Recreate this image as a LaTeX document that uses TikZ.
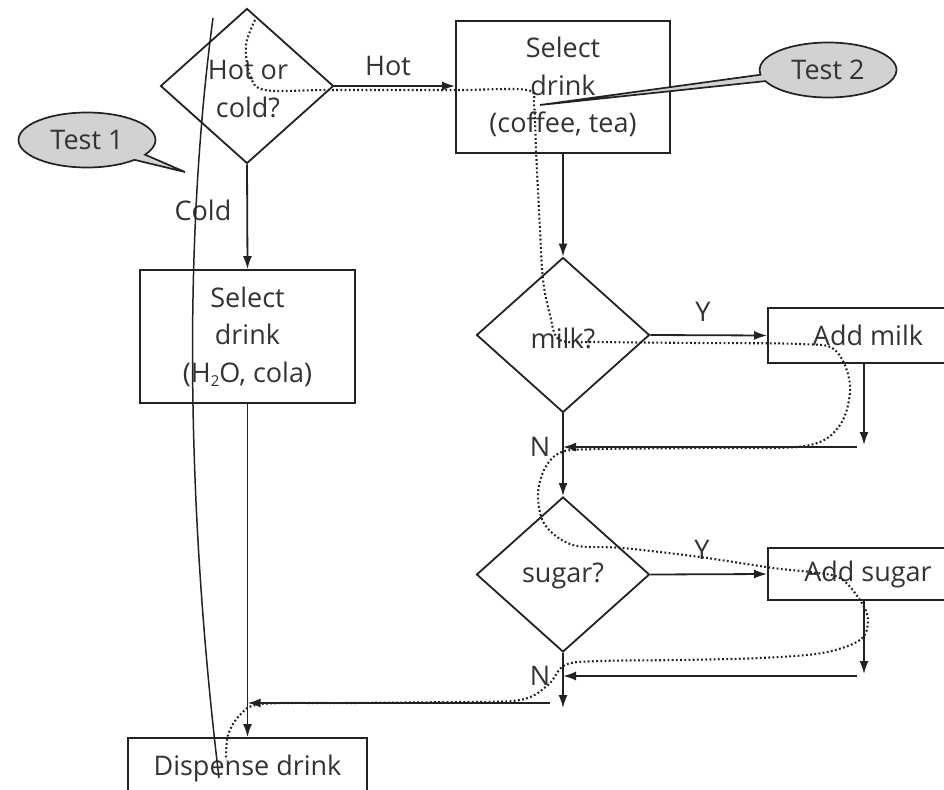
\documentclass[tikz,border=0pt]{standalone}
\usepackage{fontspec}
\setmainfont{Open Sans}
\usetikzlibrary{shapes.geometric,shapes.callouts,arrows.meta}
\definecolor{ln}{HTML}{222222}
\definecolor{txt}{HTML}{333333}
\definecolor{bub}{HTML}{D2D2D2}
\begin{document}
\begin{tikzpicture}[x=1pt,y=-1pt,
  every node/.style={text=txt, font=\fontsize{27}{37.5}\selectfont},
  line/.style={draw=ln, line width=1.8pt},
  arr/.style={line, -{Latex[length=13pt,width=9pt]}},
  box/.style={line, rectangle, inner sep=0pt, align=center},
  dia/.style={line, diamond, inner sep=0pt, minimum width=173pt, minimum height=155pt},
  bubble/.style={ellipse callout, draw=ln, line width=1.7pt, fill=bub, minimum width=137pt, minimum height=55pt, inner sep=0pt, callout pointer arc=14},
  trace/.style={draw=ln, line width=2.1pt, dash pattern=on 1.8pt off 2.4pt},
  lab/.style={inner sep=0pt, align=center}
]
\fill[white] (0,0) rectangle (944,789);
\useasboundingbox (0,0) rectangle (944,789);

% decision nodes
\node[dia] (q1) at (247,86) {};
\node[lab] (q1t) at (248,89) {Hot or\\cold?};
\node[dia] (milk) at (563,335) {};
\node[lab] (milkt) at (563,338) {milk?};
\node[dia] (sug) at (563,574.5) {};
\node[lab] (sugt) at (563,576) {sugar?};

% process boxes
\node[box, minimum width=214pt, minimum height=132pt] (cof) at (563,87) {Select\\drink\\(coffee, tea)};
\node[box, minimum width=215pt, minimum height=133pt] (h2o) at (247.5,336.5) {Select\\drink\\(H{\fontsize{15}{15}\selectfont\raisebox{-4pt}{2}}O, cola)};
\node[box, minimum width=200pt, minimum height=55pt] (am) at (868,335.5) {Add milk};
\node[box, minimum width=200pt, minimum height=52pt] (as) at (868,574) {Add sugar};
\node[box, minimum width=239pt, minimum height=60pt] (disp) at (247.5,768) {Dispense drink};

% labels
\node[lab] (lhot) at (388,66) {Hot};
\node[lab] (lcold) at (203,210) {Cold};
\node[lab] (ly1) at (703,312) {Y};
\node[lab] (ly2) at (702,550) {Y};
\node[lab] (ln1) at (540,447) {N};
\node[lab] (ln2) at (540,676) {N};

% connectors
\draw[arr] (q1.east) -- (q1.east -| cof.west);
\draw[arr] (q1.south) -- (h2o.north);
\draw[arr] (cof.south) -- (milk.north);
\draw[arr] (milk.east) -- (am.west);
\coordinate (amd) at (864,445);
\draw[arr] (am.south -| amd) -- (amd);
\coordinate (amr) at (857,447);
\draw[arr] (amr) -- (amr -| milk.south);
\draw[arr] (milk.south) -- (sug.north);
\draw[arr] (sug.east) -- (as.west);
\coordinate (asd) at (864,674);
\draw[arr] (as.south -| asd) -- (asd);
\coordinate (asr) at (857,676);
\draw[arr] (asr) -- (asr -| sug.south);
\coordinate (sd) at (563,708);
\draw[arr] (sug.south) -- (sd);
\coordinate (jr) at (550,703);
\draw[arr] (jr) -- (jr -| h2o.south);
\draw[arr] (h2o.south) -- (disp.north);

% callouts
\node[bubble, callout absolute pointer={(185,172)}] (t1) at (87,140) {Test 1};
\node[bubble, callout absolute pointer={(540,105)}] (t2) at (828,70) {Test 2};

% test 1 line
\coordinate (s1) at (213,18);
\coordinate (s2) at (219,778);
\draw[line, line width=1.5pt] (s1) .. controls (182,250) and (188,520) .. (s2);

% test 2 trace
\draw[trace] plot[smooth, tension=0.55] coordinates {
(255,20) (246,45) (250,75) (265,90) (330,90) (456,90) (527,90) (534,105) (536,150)
(540,230) (543,280) (550,315) (560,340) (600,342) (700,343) (800,344) (835,350)
(850,385) (840,425) (805,446) (700,448) (600,449) (562,452) (545,468) (538,495)
(545,525) (573,545) (623,548) (700,557) (773,568) (810,572) (840,578) (860,600)
(868,620) (860,640) (822,653) (760,658) (680,660) (600,661) (565,665) (548,685)
(520,700) (450,702) (350,703) (262,704) (240,715) (228,735) (226,760)};
\end{tikzpicture}
\end{document}
